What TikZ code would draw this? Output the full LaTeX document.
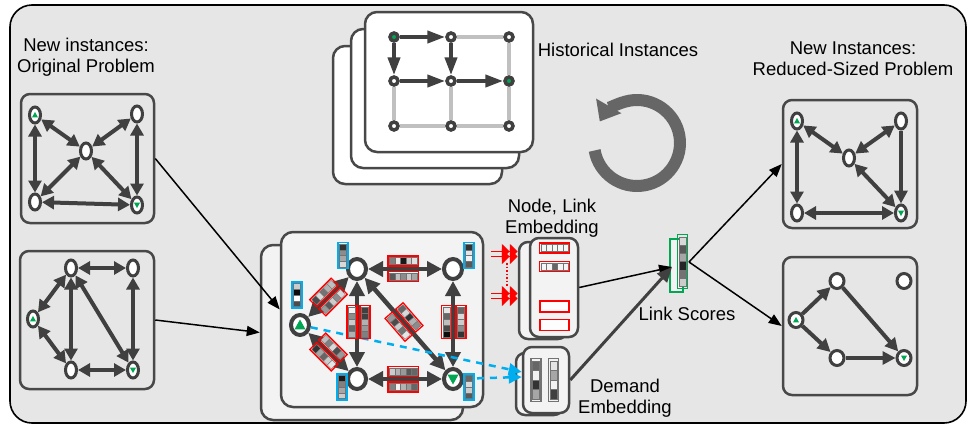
\documentclass[tikz,border=0pt]{standalone}
\usepackage{fontspec}
\setmainfont{Liberation Sans}
\usepackage{tikz}
\usetikzlibrary{calc, arrows.meta, shapes.geometric}
\usepackage{xcolor}
\definecolor{bggray}{RGB}{230, 230, 230}
\definecolor{edgegray}{RGB}{64, 64, 64}
\definecolor{boxgray}{RGB}{72, 72, 72}
\definecolor{cardfill}{RGB}{243, 243, 243}
\definecolor{gridgray}{RGB}{192, 192, 192}
\definecolor{ringgray}{RGB}{102, 102, 102}
\definecolor{mygreen}{RGB}{0, 166, 81}
\definecolor{myred}{RGB}{255, 0, 0}
\definecolor{myblue}{RGB}{0, 174, 239}

% feature vector: #1 placement, #2 frame colour, #3 number of cells, #4 grey levels
\newcommand{\featvec}[4]{%
  \begin{scope}[#1]
    \foreach \g [count=\k from 0] in {#4}
      \draw[cell_style, fill=black!\g] ({(\k-#3/2)*5.5},-3.5) rectangle ++(5.5,7);
    \draw[vec_frame, draw=#2] ({-#3*2.75-1.4},-4.9) rectangle ({#3*2.75+1.4},4.9);
  \end{scope}}

\begin{document}
\begin{tikzpicture}[
    x=1pt, y=-1pt,
    font=\fontsize{18.5}{21}\selectfont,
    frame_style/.style={draw=black, line width=1.6pt, fill=bggray,
      rounded corners=22pt},
    box_style/.style={draw=boxgray, line width=2.5pt, rounded corners=9pt,
      inner sep=0pt},
    card_style/.style={box_style, fill=cardfill, rounded corners=12pt},
    label_style/.style={align=center, inner sep=0pt},
    sg_node/.style={ellipse, draw=edgegray, line width=3pt, fill=white,
      minimum width=11pt, minimum height=16pt, inner sep=0pt},
    big_node/.style={sg_node, line width=4pt, minimum width=18pt,
      minimum height=20pt},
    round_node/.style={sg_node, minimum width=14pt, minimum height=15pt},
    hist_node/.style={circle, draw=edgegray, line width=3.5pt,
      minimum size=8pt, inner sep=0pt},
    src/.style={path picture={\fill[mygreen]
      ([shift={(-#1,0.8*#1)}]path picture bounding box.center) --
      ([shift={(#1,0.8*#1)}]path picture bounding box.center) --
      ([shift={(0,-#1)}]path picture bounding box.center) -- cycle;}},
    src/.default=3,
    dst/.style={path picture={\fill[mygreen]
      ([shift={(-#1,-0.8*#1)}]path picture bounding box.center) --
      ([shift={(#1,-0.8*#1)}]path picture bounding box.center) --
      ([shift={(0,#1)}]path picture bounding box.center) -- cycle;}},
    dst/.default=3,
    sg_edge/.style={draw=edgegray, line width=4pt,
      arrows={Triangle[length=12pt,width=13pt]-Triangle[length=12pt,width=13pt]}},
    sg_arrow/.style={draw=edgegray, line width=4pt,
      arrows={-Triangle[length=13pt,width=13pt]}},
    big_edge/.style={draw=edgegray, line width=4.5pt,
      arrows={Triangle[length=15pt,width=15pt]-Triangle[length=15pt,width=15pt]}},
    grid_line/.style={draw=gridgray, line width=4pt},
    hist_arrow/.style={draw=edgegray, line width=4pt,
      arrows={-Triangle[length=18pt,width=12pt]}},
    cycle_style/.style={draw=ringgray, line width=12pt,
      arrows={-Triangle[length=18pt,width=28pt]}},
    cell_style/.style={draw=black!55, line width=0.4pt},
    vec_frame/.style={line width=1.3pt},
    flow_arrow/.style={draw=black, line width=1.5pt,
      arrows={-Triangle[length=13pt,width=10pt]}},
    dem_arrow/.style={draw=myblue, line width=2.5pt,
      dash pattern=on 7pt off 6pt,
      arrows={-Triangle[length=13pt,width=12pt]}},
    red_arrow/.style={draw=myred, line width=1.8pt,
      arrows={-Triangle[length=8pt,width=15pt] Triangle[length=8pt,width=15pt]}}
]
    \useasboundingbox (0,0) rectangle (967,426);
    \draw[frame_style] (10,5) rectangle (966,423);

    % --- Historical instances ---
    \node[card_style, fill=white, minimum width=169pt, minimum height=138pt]
        (hist_back) at (417.5,115) {};
    \node[card_style, fill=white, minimum width=168pt, minimum height=139pt]
        (hist_mid) at (435,98.5) {};
    \node[card_style, fill=white, minimum width=168pt, minimum height=140pt]
        (hist_front) at (449,82) {};
    \foreach \n/\x/\y/\f in {h11/394/37/mygreen, h12/451/37/white,
      h13/509/37/white, h21/394/81/white, h22/451/81/white,
      h23/509/81/mygreen, h31/394/126/white, h32/451/126/white,
      h33/509/126/white}
      \node[hist_node, fill=\f] (\n) at (\x,\y) {};
    \foreach \u/\v in {h12/h13, h31/h32, h32/h33, h21/h31, h22/h32,
      h13/h23, h23/h33}
      \draw[grid_line] (\u) -- (\v);
    \foreach \u/\v in {h11/h12, h11/h21, h12/h22, h21/h22, h22/h23}
      \draw[hist_arrow] (\u) -- (\v);

    \draw[cycle_style] ([shift={(170:43)}]637,143)
        arc[start angle=170, end angle=-150, radius=43];

    % --- Labels ---
    \node[label_style] (lbl_orig) at (86,57.5)
        {New instances:\\Original Problem};
    \node[label_style] (lbl_hist) at (618,50) {Historical Instances};
    \node[label_style] (lbl_red) at (853,58.5)
        {New Instances:\\Reduced-Sized Problem};
    \node[label_style] (lbl_emb) at (552,218) {Node, Link\\Embedding};
    \node[label_style] (lbl_score) at (687,314) {Link Scores};
    \node[label_style] (lbl_dem) at (625,398.5) {Demand\\Embedding};

    % --- Original instances ---
    \node[box_style, minimum width=133pt, minimum height=129pt]
        (orig1) at (87.5,158.5) {};
    \node[sg_node, src] (a1) at (35,115) {};
    \node[sg_node] (a2) at (137,114) {};
    \node[sg_node] (a3) at (86,151) {};
    \node[sg_node] (a4) at (35,202) {};
    \node[sg_node, dst] (a5) at (137,205) {};
    \foreach \u/\v in {a1/a3, a2/a3, a3/a4, a3/a5, a1/a4, a2/a5, a4/a5}
      \draw[sg_edge] (\u) -- (\v);

    \node[box_style, minimum width=134pt, minimum height=138pt]
        (orig2) at (87,320) {};
    \node[sg_node] (b1) at (71,268) {};
    \node[sg_node] (b2) at (133,268) {};
    \node[sg_node, src] (b3) at (33,319) {};
    \node[sg_node] (b4) at (71,370) {};
    \node[sg_node, dst] (b5) at (133,370) {};
    \foreach \u/\v in {b1/b2, b1/b3, b3/b4, b1/b4, b1/b5, b2/b5, b4/b5}
      \draw[sg_edge] (\u) -- (\v);

    % --- Graph network stack ---
    \node[card_style, minimum width=202pt, minimum height=175pt]
        (gnn_back) at (362,332.5) {};
    \node[card_style, minimum width=202pt, minimum height=175pt]
        (gnn_front) at (382,319.5) {};
    \node[big_node] (c1) at (357,269) {};
    \node[big_node] (c2) at (453,269) {};
    \node[big_node, src=5.5] (c3) at (300,325) {};
    \node[big_node] (c4) at (357,379) {};
    \node[big_node, dst=5.5] (c5) at (453,379) {};
    \foreach \u/\v in {c1/c2, c1/c3, c3/c4, c1/c4, c1/c5, c2/c5, c4/c5}
      \draw[big_edge] (\u) -- (\v);

    % --- Embedding boxes ---
    \node[card_style, rounded corners=9pt, minimum width=48pt,
        minimum height=97pt] (nl_back) at (543,290.5) {};
    \node[card_style, rounded corners=9pt, minimum width=48pt,
        minimum height=99pt] (nl_front) at (554,287.5) {};
    \node[card_style, rounded corners=9pt, minimum width=47pt,
        minimum height=62pt] (d_back) at (539.5,384) {};
    \node[card_style, rounded corners=9pt, minimum width=46pt,
        minimum height=66pt] (d_front) at (546,380) {};

    \draw[dem_arrow] (c3) -- ([yshift=8pt]d_front.west);
    \draw[dem_arrow] (c5) -- ([yshift=3pt]d_front.west);

    % node vectors
    \featvec{shift={(343,255.5)}, rotate=-90, xscale=1.05}{myblue}{4}{80,45,35,15}
    \featvec{shift={(469,255.5)}, rotate=-90, xscale=1.05}{myblue}{4}{80,10,5,65}
    \featvec{shift={(297,295)}, rotate=-90, xscale=1.05}{myblue}{4}{20,95,0,70}
    \featvec{shift={(342,387)}, rotate=-90, xscale=1.05}{myblue}{4}{90,50,35,20}
    \featvec{shift={(469,387)}, rotate=-90, xscale=1.05}{myblue}{4}{60,15,20,65}

    % link vectors
    \featvec{shift={(403,261)}}{myred}{5}{50,8,90,20,12}
    \featvec{shift={(403,276.5)}}{myred}{5}{65,25,45,20,35}
    \featvec{shift={(403,371.5)}}{myred}{5}{20,30,40,65,60}
    \featvec{shift={(403,387)}}{myred}{5}{50,5,30,40,60}
    \featvec{shift={(352,322)}, rotate=-90, xscale=1.1}{myred}{5}{5,45,20,60,30}
    \featvec{shift={(365,322)}, rotate=-90, xscale=1.1}{myred}{5}{75,75,30,40,50}
    \featvec{shift={(446.5,322)}, rotate=-90, xscale=1.1}{myred}{5}{10,60,25,70,95}
    \featvec{shift={(461,322)}, rotate=-90, xscale=1.1}{myred}{5}{60,15,20,45,80}
    \featvec{shift={(323.9,292.4)}, rotate=45}{myred}{5}{70,15,55,30,25}
    \featvec{shift={(333.1,301.6)}, rotate=45}{myred}{5}{40,65,20,45,15}
    \featvec{shift={(333,347.3)}, rotate=-45}{myred}{5}{25,50,15,70,40}
    \featvec{shift={(324,356.7)}, rotate=-45}{myred}{5}{80,35,60,20,10}
    \featvec{shift={(409.3,317.4)}, rotate=-49}{myred}{5}{60,15,80,30,45}
    \featvec{shift={(398.7,326.6)}, rotate=-49}{myred}{5}{40,70,20,55,10}

    % --- Node, link embedding ---
    \coordinate (nl_in1) at (491,254);
    \coordinate (nl_in2) at (491,296);
    \coordinate (nl_in1e) at (nl_in1 -| nl_back.west);
    \coordinate (nl_in2e) at (nl_in2 -| nl_back.west);
    \foreach \dy in {-2.5,2.5} {
      \draw[red_arrow] ([yshift=\dy pt]nl_in1) -- ([yshift=\dy pt]nl_in1e);
      \draw[red_arrow] ([yshift=\dy pt]nl_in2) -- ([yshift=\dy pt]nl_in2e);
    }
    \draw[myred, line width=1.5pt, dotted] (507,263) -- (507,287);

    \featvec{shift={(554.5,248)}}{myred}{5}{4,4,4,4,4}
    \featvec{shift={(554.5,266.5)}}{myred}{5}{4,4,60,4,4}
    \draw[vec_frame, draw=myred, fill=white!85!cardfill]
        (540,301) rectangle (569,312);
    \draw[vec_frame, draw=myred, fill=white!85!cardfill]
        (540,319.5) rectangle (569,330.5);

    % --- Demand embedding ---
    \featvec{shift={(536,380)}, rotate=-90, xscale=1.75}{black!55}{4}{60,5,80,35}
    \featvec{shift={(553.5,380)}, rotate=-90, xscale=1.75}{black!55}{4}{10,35,5,75}

    % --- Link scores ---
    \draw[vec_frame, draw=mygreen, fill=cardfill] (670,239) rectangle (683,292);
    \featvec{shift={(682.5,261.5)}, rotate=-90, xscale=1.5}{mygreen}{6}{15,65,35,85,55,20}
    \coordinate (score_in) at (672,267);
    \coordinate (score_out) at (689,262);

    % --- Reduced instances ---
    \node[box_style, minimum width=134pt, minimum height=128pt]
        (red1) at (850,164) {};
    \node[sg_node, src] (r1) at (797,121) {};
    \node[sg_node] (r2) at (901,121) {};
    \node[sg_node] (r3) at (849,158) {};
    \node[sg_node] (r4) at (797,213) {};
    \node[sg_node, dst] (r5) at (901,213) {};
    \foreach \u/\v in {r1/r3, r2/r3, r3/r5, r1/r4, r4/r5}
      \draw[sg_edge] (\u) -- (\v);
    \draw[sg_arrow] (r2) -- (r5);

    \node[box_style, minimum width=134pt, minimum height=138pt]
        (red2) at (850,326) {};
    \node[round_node] (s1) at (837,281) {};
    \node[round_node] (s2) at (904,281) {};
    \node[round_node, src] (s3) at (796,320) {};
    \node[round_node] (s4) at (837,358) {};
    \node[round_node, dst] (s5) at (904,358) {};
    \foreach \u/\v in {s3/s1, s3/s4, s1/s5, s4/s5}
      \draw[sg_arrow] (\u) -- (\v);

    % --- Flow between stages ---
    \draw[flow_arrow] (orig1.east) -- ([yshift=10pt]gnn_front.west);
    \draw[flow_arrow] (orig2.east) -- (gnn_back.west);
    \draw[flow_arrow] (nl_front.east) -- (score_in);
    \draw[flow_arrow, draw=edgegray, line width=3pt,
        arrows={-Triangle[length=15pt,width=13pt]}] (d_front.east) -- (score_in);
    \draw[flow_arrow] (score_out) -- (red1.west);
    \draw[flow_arrow] (score_out) -- (red2.west);

\end{tikzpicture}
\end{document}
